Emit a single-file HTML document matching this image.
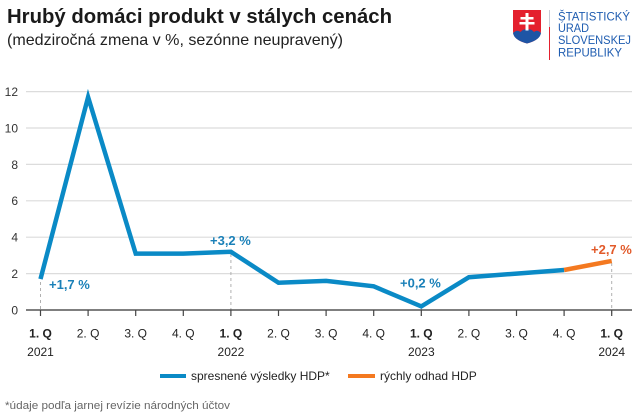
<!DOCTYPE html>
<html><head><meta charset="utf-8"><style>
html,body{margin:0;padding:0;background:#fff;}
svg{display:block;font-family:"Liberation Sans",Arial,sans-serif;}
</style></head><body>
<svg width="640" height="418" viewBox="0 0 640 418" xmlns="http://www.w3.org/2000/svg">
<rect width="640" height="418" fill="#fff"/>
<!-- Title -->
<text x="7" y="23" font-size="20" font-weight="bold" fill="#1a1a1a" textLength="385" lengthAdjust="spacingAndGlyphs">Hrubý domáci produkt v stálych cenách</text>
<text x="7" y="45" font-size="16" fill="#222" textLength="336" lengthAdjust="spacingAndGlyphs">(medziročná zmena v %, sezónne neupravený)</text>
<!-- Logo -->
<path d="M513,10 H541 V31 Q541,40 527,43.5 Q513,40 513,31 Z" fill="#e4202e"/>
<path d="M513,33 Q517,29 520.5,32 Q524,28 527,30 Q530.5,28 534,32 Q537,29 541,33 Q540,40 527,43.5 Q514,40 513,33 Z" fill="#1e55a5"/>
<path d="M525.5,13 h3 v4 h5 v2.5 h-5 v2.5 h6 v2.5 h-6 v6 h-3 v-6 h-6 v-2.5 h6 v-2.5 h-5 v-2.5 h5 z" fill="#fff"/>
<line x1="549.5" y1="10" x2="549.5" y2="27" stroke="#c8cdd8" stroke-width="1"/>
<line x1="549.5" y1="27" x2="549.5" y2="60" stroke="#e4202e" stroke-width="1"/>
<g font-size="11.5" fill="#1e5cb0">
<text x="558" y="20.5" textLength="72" lengthAdjust="spacingAndGlyphs">ŠTATISTICKÝ</text>
<text x="558" y="32" textLength="31" lengthAdjust="spacingAndGlyphs">ÚRAD</text>
<text x="558" y="44" textLength="73" lengthAdjust="spacingAndGlyphs">SLOVENSKEJ</text>
<text x="558" y="56.5" textLength="64" lengthAdjust="spacingAndGlyphs">REPUBLIKY</text>
</g>
<!-- Gridlines -->
<g stroke="#dcdcdc" stroke-width="1.2">
<line x1="26" y1="91.6" x2="632" y2="91.6"/>
<line x1="26" y1="128" x2="632" y2="128"/>
<line x1="26" y1="164.4" x2="632" y2="164.4"/>
<line x1="26" y1="200.8" x2="632" y2="200.8"/>
<line x1="26" y1="237.2" x2="632" y2="237.2"/>
<line x1="26" y1="273.6" x2="632" y2="273.6"/>
</g>
<!-- Y labels -->
<g font-size="12" fill="#333" text-anchor="end">
<text x="18" y="96">12</text>
<text x="18" y="132.5">10</text>
<text x="18" y="169">8</text>
<text x="18" y="205">6</text>
<text x="18" y="241.5">4</text>
<text x="18" y="278">2</text>
<text x="18" y="314.5">0</text>
</g>
<!-- dashed verticals -->
<g stroke="#b0b0b0" stroke-width="1" stroke-dasharray="3,3">
<line x1="40.5" y1="282" x2="40.5" y2="316"/>
<line x1="230.9" y1="254" x2="230.9" y2="316"/>
<line x1="421.3" y1="308" x2="421.3" y2="316"/>
<line x1="611.7" y1="263" x2="611.7" y2="316"/>
</g>
<!-- Axis -->
<line x1="26" y1="310" x2="632" y2="310" stroke="#333" stroke-width="1.2"/>
<g stroke="#444" stroke-width="1.2">
<line x1="40.5" y1="310" x2="40.5" y2="316"/>
<line x1="88.1" y1="310" x2="88.1" y2="316"/>
<line x1="135.7" y1="310" x2="135.7" y2="316"/>
<line x1="183.3" y1="310" x2="183.3" y2="316"/>
<line x1="230.9" y1="310" x2="230.9" y2="316"/>
<line x1="278.5" y1="310" x2="278.5" y2="316"/>
<line x1="326.1" y1="310" x2="326.1" y2="316"/>
<line x1="373.7" y1="310" x2="373.7" y2="316"/>
<line x1="421.3" y1="310" x2="421.3" y2="316"/>
<line x1="468.9" y1="310" x2="468.9" y2="316"/>
<line x1="516.5" y1="310" x2="516.5" y2="316"/>
<line x1="564.1" y1="310" x2="564.1" y2="316"/>
<line x1="611.7" y1="310" x2="611.7" y2="316"/>
</g>
<!-- X labels -->
<g font-size="12" fill="#222" text-anchor="middle">
<text x="40.5" y="337.5" font-weight="bold">1. Q</text>
<text x="88.1" y="337.5">2. Q</text>
<text x="135.7" y="337.5">3. Q</text>
<text x="183.3" y="337.5">4. Q</text>
<text x="230.9" y="337.5" font-weight="bold">1. Q</text>
<text x="278.5" y="337.5">2. Q</text>
<text x="326.1" y="337.5">3. Q</text>
<text x="373.7" y="337.5">4. Q</text>
<text x="421.3" y="337.5" font-weight="bold">1. Q</text>
<text x="468.9" y="337.5">2. Q</text>
<text x="516.5" y="337.5">3. Q</text>
<text x="564.1" y="337.5">4. Q</text>
<text x="611.7" y="337.5" font-weight="bold">1. Q</text>
<text x="40.5" y="356">2021</text>
<text x="230.9" y="356">2022</text>
<text x="421.3" y="356">2023</text>
<text x="611.7" y="356">2024</text>
</g>
<!-- Series -->
<polyline fill="none" stroke="#0a8ac6" stroke-width="4.5" stroke-linejoin="miter" stroke-miterlimit="10"
 points="40.5,279.1 88.1,97.1 135.7,253.6 183.3,253.6 230.9,251.8 278.5,282.7 326.1,280.9 373.7,286.3 421.3,306.4 468.9,277.2 516.5,273.6 564.1,270"/>
<polyline fill="none" stroke="#f47920" stroke-width="4.5" points="564.1,270 611.7,260.9"/>
<!-- Annotations -->
<g font-size="13" font-weight="bold" fill="#1a80b8">
<text x="49" y="289">+1,7 %</text>
<text x="210" y="245">+3,2 %</text>
<text x="400" y="287.5">+0,2 %</text>
</g>
<text x="591" y="254" font-size="13" font-weight="bold" fill="#e25a2a">+2,7 %</text>
<!-- Legend -->
<line x1="160" y1="376" x2="186" y2="376" stroke="#0a8ac6" stroke-width="4"/>
<text x="191" y="380" font-size="12" fill="#222">spresnené výsledky HDP*</text>
<line x1="348" y1="376" x2="375" y2="376" stroke="#f47920" stroke-width="4"/>
<text x="380" y="380" font-size="12" fill="#222">rýchly odhad HDP</text>
<!-- Footnote -->
<text x="5" y="409" font-size="11" fill="#666" textLength="225" lengthAdjust="spacingAndGlyphs">*údaje podľa jarnej revízie národných účtov</text>
</svg>
</body></html>
